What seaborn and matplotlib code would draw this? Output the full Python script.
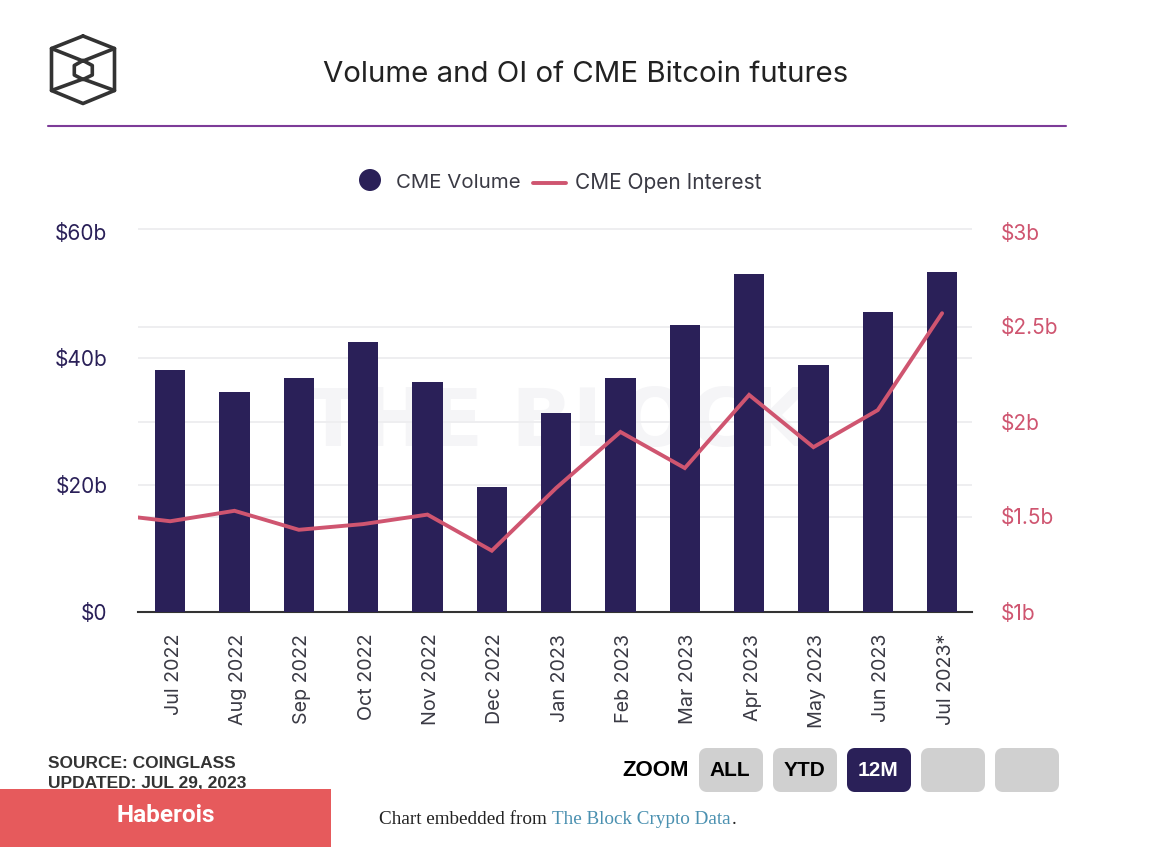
import numpy as np
import pandas as pd
import matplotlib
matplotlib.use("Agg")
import matplotlib.pyplot as plt
from matplotlib.patches import Circle, FancyBboxPatch, Rectangle
from matplotlib.transforms import ScaledTranslation
import seaborn as sns

months = ["Jul 2022", "Aug 2022", "Sep 2022", "Oct 2022", "Nov 2022", "Dec 2022", "Jan 2023",
          "Feb 2023", "Mar 2023", "Apr 2023", "May 2023", "Jun 2023", "Jul 2023*"]
volume = [38.2, 34.7, 36.9, 42.6, 36.3, 19.7, 31.3, 36.9, 45.2, 53.3, 38.9, 47.3, 53.6]
# first value is the month before the window, it gets clipped at the axis edge
open_interest = [1.515, 1.475, 1.53, 1.43, 1.46, 1.51, 1.32, 1.65, 1.945, 1.755, 2.14, 1.865, 2.06, 2.57]
oi_positions = [-1, 0, 1, 2, 3, 4, 5, 6, 7, 8, 9, 10, 11, 12]

left_ticks = [0, 20, 40, 60]
left_labels = ["$0", "$20b", "$40b", "$60b"]
right_ticks = [1, 1.5, 2, 2.5, 3]
right_labels = ["$1b", "$1.5b", "$2b", "$2.5b", "$3b"]

NAVY = "#2a2058"
PINK = "#cf5570"
GRID = "#eeeef0"
W, H = 1162, 848
X_RIGHT = 12.465

sns.set_style("white")
plt.rcParams["font.family"] = ["Inter", "DejaVu Sans"]

fig = plt.figure(figsize=(W / 100, H / 100), dpi=100, facecolor="white")

# page layer in pixel coordinates: logo, title, legend, footer
page = fig.add_axes([0, 0, 1, 1], zorder=0)
page.set_xlim(0, W)
page.set_ylim(H, 0)
page.axis("off")

logo_color = "#333333"
outer = [(83, 36), (114.5, 48.5), (114.5, 90.5), (83, 103.5), (51.5, 90.5), (51.5, 48.5), (83, 36)]
inner = [(83, 60.5), (92.3, 65.5), (92.3, 75), (83, 79.5), (74.3, 75), (74.3, 65.5), (83, 60.5)]
page.plot(*zip(*outer), color=logo_color, lw=2.6, solid_joinstyle="round")
page.plot(*zip(*inner), color=logo_color, lw=2.6, solid_joinstyle="round")
page.plot([51.5, 83, 114.5], [48.5, 61, 48.5], color=logo_color, lw=2.6)
page.plot([51.5, 83, 114.5], [90.5, 79, 90.5], color=logo_color, lw=2.6)

page.text(586, 75, "Volume and OI of CME Bitcoin futures", ha="center", va="center",
          fontsize=21.2, color="#222222")
page.plot([48, 1066], [126, 126], color="#7d3c98", lw=1.5)

page.add_patch(Circle((370, 180), 11, color=NAVY, lw=0))
page.text(396, 183, "CME Volume", va="center", fontsize=14.7, color="#3a3a44")
page.plot([533, 566], [183, 183], color=PINK, lw=2.8, solid_capstyle="round")
page.text(575, 183, "CME Open Interest", va="center", fontsize=15, color="#3a3a44")

page.text(558, 424, "THE BLOCK", ha="center", va="center", family=["DejaVu Sans"], fontsize=58,
          fontweight="bold", color="#f5f5f7")

page.text(48, 763, "SOURCE: COINGLASS", va="center", family=["Liberation Sans"],
          fontsize=12.5, fontweight="bold", color="#333333")
page.text(48, 783, "UPDATED: JUL 29, 2023", va="center", family=["Liberation Sans"],
          fontsize=12.5, fontweight="bold", color="#333333")
page.add_patch(Rectangle((0, 789), 331, 58, color="#e65a5c", lw=0, zorder=5))
page.text(166, 815, "Haberois", ha="center", va="center", family=["Roboto"], fontsize=17.5,
          fontweight="bold", color="white", zorder=6)

page.text(656, 770, "ZOOM", ha="center", va="center", family=["Liberation Sans"],
          fontsize=16, fontweight="bold", color="black")
buttons = [(699, "ALL"), (773, "YTD"), (847, "12M"), (921, ""), (995, "")]
for x, label in buttons:
    active = label == "12M"
    page.add_patch(FancyBboxPatch((x + 4, 752), 56, 36, boxstyle="round,pad=0,rounding_size=4",
                                  mutation_aspect=1, lw=8 * 0.72, joinstyle="round",
                                  ec=NAVY if active else "#d0d0d0",
                                  fc=NAVY if active else "#d0d0d0"))
    page.text(x + 31, 771, label, ha="center", va="center", family=["Liberation Sans"],
              fontsize=15, fontweight="bold", color="white" if active else "black")

page.text(379, 820, "Chart embedded from", va="center", family=["Liberation Serif"],
          fontsize=13.8, color="#222222")
page.text(552, 820, "The Block Crypto Data", va="center", family=["Liberation Serif"],
          fontsize=13.8, color="#4a90b0")
page.text(732, 820, ".", va="center", family=["Liberation Serif"], fontsize=13.8, color="#222222")

# plot area spans x 138-972, y 228-611.5 in pixels
ax = fig.add_axes([138 / W, 1 - 611.5 / H, (972 - 138) / W, (611.5 - 228) / H], zorder=1)
ax.patch.set_alpha(0)

bars = pd.DataFrame({"month": months, "volume": volume})
sns.barplot(data=bars, x="month", y="volume", color=NAVY, saturation=1, width=0.47,
            linewidth=0, ax=ax, zorder=3)
ax.set_xlim(-0.5, X_RIGHT)
ax.set_ylim(0, 383.5 / 6.33)
ax.set_xlabel("")
ax.set_ylabel("")
ax.set_yticks(left_ticks, left_labels)
ax.tick_params(axis="y", length=0, pad=22, labelsize=15, labelcolor=NAVY)
ax.tick_params(axis="x", length=0, pad=16, labelsize=14.2, labelcolor="#3a3a44", labelrotation=90)
shift = ScaledTranslation(2.5 / 72, 0, fig.dpi_scale_trans)
for label in ax.get_xticklabels():
    label.set_transform(label.get_transform() + shift)
for side in ["top", "left", "right"]:
    ax.spines[side].set_visible(False)
ax.spines["bottom"].set_color("#333333")
ax.spines["bottom"].set_linewidth(1.5)

# all gridlines sit under the bars; the right axis ones are converted to left axis units
grid_left = [20, 40, ax.get_ylim()[1] - 0.08]
grid_right = [(v - 1) * 190 / 6.33 for v in [1.5, 2, 2.5]]
ax.hlines(grid_left + grid_right, -0.5, X_RIGHT, color=GRID, lw=1.4, zorder=1)

ax2 = ax.twinx()
ax2.set_zorder(2)
oi = pd.DataFrame({"pos": oi_positions, "oi": open_interest})
sns.lineplot(data=oi, x="pos", y="oi", color=PINK, lw=2.8, ax=ax2, solid_joinstyle="miter")
ax2.set_xlim(-0.5, X_RIGHT)
ax2.set_ylim(1, 1 + 383.5 / 190)
ax2.set_xlabel("")
ax2.set_ylabel("")
ax2.set_yticks(right_ticks, right_labels)
ax2.tick_params(axis="y", length=0, pad=21, labelsize=15, labelcolor=PINK)
for side in ["top", "left", "right", "bottom"]:
    ax2.spines[side].set_visible(False)

fig.savefig("out.png", dpi=100)
